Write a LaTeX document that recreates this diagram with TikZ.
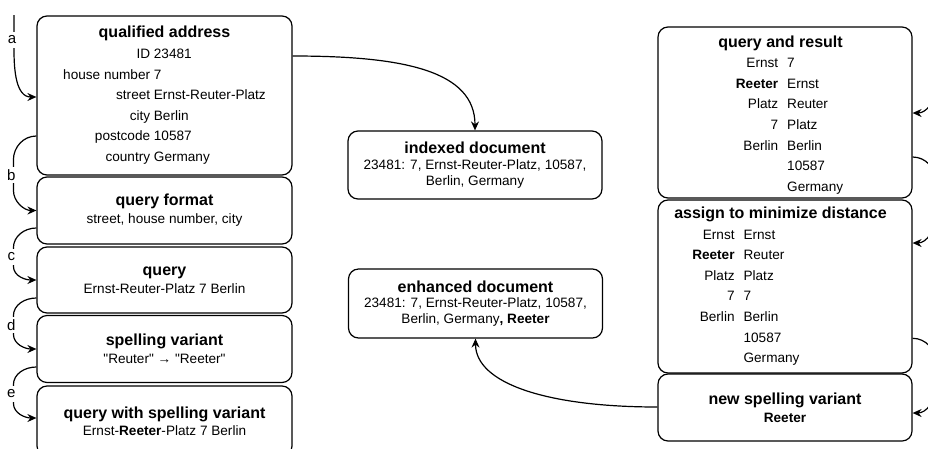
\documentclass[tikz,border=0pt]{standalone}
\usepackage{fontspec}
\setmainfont{Liberation Sans}
\newfontfamily\rawf{Liberation Sans}[Ligatures=ResetAll]
\usetikzlibrary{arrows.meta,calc}
\newcommand\bodyf{\fontsize{13.6}{15.8}\selectfont}
\newcommand\titlef{\fontsize{16}{18.4}\selectfont\bfseries}
\newcommand\tabf{\fontsize{13.6}{20.6}\selectfont}
\newcommand\dq{{\rawf\symbol{34}}}
\tikzset{
  box/.style={draw, rounded corners=10pt, fill=white, line width=1.2pt,
    minimum width=255pt, inner sep=0pt, align=center, font=\bodyf},
  conn/.style={line width=1.2pt, -{Stealth[length=9pt,width=8pt,inset=3pt]}},
  lab/.style={fill=white, inner sep=0pt, minimum height=16pt, minimum width=9pt, font=\fontsize{15}{17}\selectfont, xshift=-2pt}
}
\begin{document}
\begin{tikzpicture}[x=1pt,y=-1pt]
\clip (0,0) rectangle (928,448);
\fill[white] (0,0) rectangle (928,448);

% left column
\node[box, minimum height=159pt] (qa) at (164.5,95.5) {\tabf\begin{tabular}{@{}r@{\ }l@{}}
\multicolumn{2}{@{}c@{}}{\titlef qualified address}\\
ID & 23481\\
house number & 7\\
street & Ernst-Reuter-Platz\\
city & Berlin\\
postcode & 10587\\
country & Germany
\end{tabular}};
\node[box, minimum height=67pt] (qf) at (164.5,210.5) {{\titlef query format}\\[2pt]street, house number, city};
\node[box, minimum height=66pt] (q) at (164.5,280) {{\titlef query}\\[2pt]Ernst-Reuter-Platz 7 Berlin};
\node[box, minimum height=67pt] (sv) at (164.5,349) {{\titlef spelling variant}\\[2pt]\dq Reuter\dq\ → \dq Reeter\dq};
\node[box, minimum height=70pt] (qsv) at (164.5,421) {{\titlef query with spelling variant}\\[1pt]Ernst-\textbf{Reeter}-Platz 7 Berlin};

% middle
\node[box, minimum width=254pt, minimum height=68pt] (idx) at (475,165) {{\titlef indexed document}\\23481: 7, Ernst-Reuter-Platz, 10587,\\Berlin, Germany};
\node[box, minimum width=254pt, minimum height=69pt] (enh) at (475.5,303.5) {{\titlef enhanced document}\\23481: 7, Ernst-Reuter-Platz, 10587,\\Berlin, Germany\textbf{, Reeter}};

% right column
\node[box, minimum width=254pt, minimum height=171pt] (qr) at (785,112.5) {\raisebox{-2.5pt}[\height][\depth]{\tabf\begin{tabular}{@{\hspace{9pt}}r@{\hspace{9pt}}l@{}}
\multicolumn{2}{@{}c@{}}{\titlef\hspace*{-9pt}query and result}\\
Ernst & 7\\
\textbf{Reeter} & Ernst\\
Platz & Reuter\\
7 & Platz\\
Berlin & Berlin\\
 & 10587\\
 & Germany
\end{tabular}}};
\node[box, minimum width=254pt, minimum height=173pt] (asg) at (785,286.5) {\tabf\begin{tabular}{@{\hspace{9pt}}r@{\hspace{9pt}}l@{}}
\multicolumn{2}{@{}c@{}}{\titlef\hspace*{-9pt}assign to minimize distance}\\
Ernst & Ernst\\
\textbf{Reeter} & Reuter\\
Platz & Platz\\
7 & 7\\
Berlin & Berlin\\
 & 10587\\
 & Germany
\end{tabular}};
\node[box, minimum width=254pt, minimum height=67pt] (nsv) at (785,407.5) {{\titlef new spelling variant}\\[2pt]\textbf{Reeter}};

% left side flow
\coordinate (a0) at (14,15);
\draw[conn] (a0) -- node[lab,pos=0.71]{a} (14,50) to[out=-90,in=180] ([yshift=-1.5pt]qa.west);
\draw[conn] ([yshift=-40.5pt]qa.west) to[out=180,in=90] ++(-23,24) -- node[lab]{b} ++(0,30) to[out=-90,in=180] (qf.west);
\draw[conn] ([yshift=-17.5pt]qf.west) to[out=180,in=90] ++(-23,20) -- node[lab]{c} ++(0,18) to[out=-90,in=180] (q.west);
\draw[conn] ([yshift=-18pt]q.west) to[out=180,in=90] ++(-23,18) -- node[lab]{d} ++(0,18) to[out=-90,in=180] (sv.west);
\draw[conn] ([yshift=-18pt]sv.west) to[out=180,in=90] ++(-23,18) -- node[lab]{e} ++(0,18) to[out=-90,in=180] ([yshift=3pt]qsv.west);

% right side flow (continues beyond the picture's edge)
\coordinate (r0) at (936,55);
\draw[conn] (r0) -- (936,88) to[out=-90,in=0] ([yshift=-0.5pt]qr.east);
\draw[conn] ([yshift=-44.5pt]qr.east) to[out=0,in=90] ++(23,24) -- ++(0,35) to[out=-90,in=0] ([yshift=43.5pt]asg.east);
\draw[conn] ([yshift=-51.8pt]asg.east) to[out=0,in=90] ++(23,24) -- ++(0,26) to[out=-90,in=0] ([yshift=-5.5pt]nsv.east);

% main arrows
\draw[conn] ([yshift=39.5pt]qa.east) .. controls +(110,0) and +(0,-60) .. (idx.north);
\draw[conn] ([yshift=0.5pt]nsv.west) .. controls +(-110,0) and +(0,45) .. (enh.south);
\end{tikzpicture}
\end{document}
